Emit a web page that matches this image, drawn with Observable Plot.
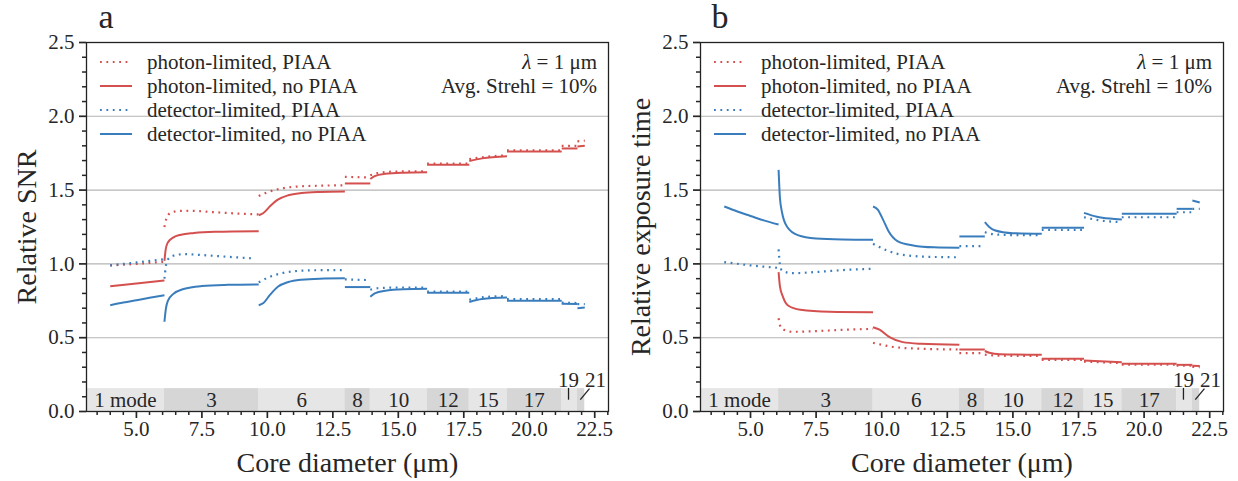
<!DOCTYPE html>
<html>
<head>
<meta charset="utf-8">
<script src="https://cdn.jsdelivr.net/npm/d3@7"></script>
<script src="https://cdn.jsdelivr.net/npm/@observablehq/plot@0.6"></script>
<style>
  html, body { margin: 0; padding: 0; background: #fff; }
  #wrap { display: flex; width: 1238px; height: 481px; }
</style>
</head>
<body>
<div id="wrap"></div>
<script>
// ---------- data ----------
const modeBounds = [6.07, 9.67, 12.96, 13.93, 16.10, 17.71, 19.15, 21.24, 21.84, 22.12];
const modeLabels = ["1 mode", "3", "6", "8", "10", "12", "15", "17", "19", "21"];
const xMajorTicks = [5, 7.5, 10, 12.5, 15, 17.5, 20, 22.5];
const yMajorTicks = [0, 0.5, 1, 1.5, 2, 2.5];
const gridY = [0.5, 1, 1.5, 2];
const legendLabels = ["photon-limited, PIAA", "photon-limited, no PIAA", "detector-limited, PIAA", "detector-limited, no PIAA"];

// Panel a: relative SNR (segments per mode band, [core diameter, value])
const snrPhotonPIAA = [
  [[4.0,0.99],[5.0,1.0],[6.07,1.015]],
  [[6.07,1.25],[6.15,1.31],[6.3,1.345],[6.6,1.358],[7.0,1.36],[8.0,1.35],[9.0,1.34],[9.67,1.335]],
  [[9.67,1.46],[10.0,1.485],[10.5,1.51],[11.0,1.522],[12.0,1.53],[12.96,1.532]],
  [[12.96,1.59],[13.93,1.585]],
  [[13.93,1.60],[14.2,1.615],[14.8,1.625],[16.1,1.628]],
  [[16.1,1.68],[17.71,1.68]],
  [[17.71,1.71],[18.3,1.725],[19.15,1.735]],
  [[19.15,1.77],[21.24,1.77]],
  [[21.24,1.80],[21.84,1.80]],
  [[21.84,1.83],[22.12,1.835]]
];
const snrPhotonNoPIAA = [
  [[4.0,0.848],[5.0,0.867],[6.07,0.888]],
  [[6.07,1.02],[6.12,1.10],[6.2,1.145],[6.4,1.178],[6.7,1.198],[7.2,1.21],[8.0,1.218],[9.67,1.222]],
  [[9.67,1.33],[9.85,1.345],[10.1,1.39],[10.4,1.435],[10.8,1.465],[11.3,1.48],[12.0,1.487],[12.96,1.49]],
  [[12.96,1.545],[13.93,1.545]],
  [[13.93,1.575],[14.1,1.595],[14.5,1.61],[15.2,1.618],[16.1,1.621]],
  [[16.1,1.672],[17.71,1.672]],
  [[17.71,1.697],[18.2,1.715],[19.15,1.73]],
  [[19.15,1.762],[21.24,1.762]],
  [[21.24,1.782],[21.84,1.782]],
  [[21.84,1.795],[22.12,1.80]]
];
const snrDetectorPIAA = [
  [[4.0,0.99],[5.0,1.01],[6.07,1.032]],
  [[6.07,0.90],[6.12,0.98],[6.2,1.03],[6.4,1.055],[6.8,1.066],[7.5,1.06],[8.5,1.048],[9.5,1.037]],
  [[9.67,0.875],[10.0,0.905],[10.5,0.935],[11.0,0.95],[11.8,0.957],[12.96,0.958]],
  [[12.96,0.895],[13.93,0.89]],
  [[13.93,0.825],[14.2,0.835],[15.0,0.84],[16.1,0.84]],
  [[16.1,0.812],[17.71,0.812]],
  [[17.71,0.757],[18.3,0.775],[19.15,0.782]],
  [[19.15,0.762],[21.24,0.762]],
  [[21.24,0.738],[21.84,0.735]],
  [[21.84,0.728],[22.12,0.728]]
];
const snrDetectorNoPIAA = [
  [[4.0,0.72],[4.5,0.738],[5.0,0.754],[5.5,0.77],[6.07,0.787]],
  [[6.07,0.608],[6.12,0.69],[6.2,0.75],[6.4,0.795],[6.8,0.83],[7.5,0.85],[8.5,0.858],[9.67,0.861]],
  [[9.67,0.72],[9.85,0.735],[10.1,0.79],[10.4,0.845],[10.8,0.877],[11.3,0.893],[12.0,0.9],[12.96,0.902]],
  [[12.96,0.843],[13.93,0.843]],
  [[13.93,0.778],[14.1,0.8],[14.5,0.818],[15.2,0.828],[16.1,0.831]],
  [[16.1,0.804],[17.71,0.804]],
  [[17.71,0.742],[18.2,0.762],[19.15,0.772]],
  [[19.15,0.75],[21.24,0.75]],
  [[21.24,0.73],[21.84,0.728]],
  [[21.84,0.70],[22.12,0.705]]
];

// Panel b: relative exposure time
const expPhotonPIAA = [
  [[6.07,0.632],[6.12,0.585],[6.25,0.556],[6.6,0.54],[7.5,0.545],[8.5,0.553],[9.67,0.56]],
  [[9.67,0.465],[10.0,0.452],[10.5,0.436],[11.5,0.425],[12.96,0.42]],
  [[12.96,0.395],[13.93,0.395]],
  [[13.93,0.385],[14.5,0.378],[16.1,0.376]],
  [[16.1,0.35],[17.71,0.35]],
  [[17.71,0.338],[19.15,0.328]],
  [[19.15,0.318],[21.24,0.318]],
  [[21.24,0.31],[21.84,0.31]],
  [[21.84,0.302],[22.12,0.30]]
];
const expPhotonNoPIAA = [
  [[6.07,0.944],[6.12,0.85],[6.24,0.775],[6.43,0.718],[6.9,0.689],[8.0,0.676],[9.67,0.673]],
  [[9.67,0.571],[9.9,0.556],[10.3,0.504],[10.8,0.47],[11.5,0.459],[12.96,0.452]],
  [[12.96,0.42],[13.93,0.42]],
  [[13.93,0.41],[14.1,0.398],[14.5,0.388],[16.1,0.384]],
  [[16.1,0.357],[17.71,0.357]],
  [[17.71,0.346],[19.15,0.334]],
  [[19.15,0.323],[21.24,0.323]],
  [[21.24,0.316],[21.84,0.316]],
  [[21.84,0.31],[22.12,0.308]]
];
const expDetectorPIAA = [
  [[4.0,1.012],[5.0,0.99],[6.07,0.973]],
  [[6.07,1.098],[6.12,1.0],[6.2,0.955],[6.6,0.937],[7.5,0.945],[8.5,0.958],[9.67,0.967]],
  [[9.67,1.136],[10.2,1.091],[10.6,1.068],[11.0,1.057],[12.0,1.047],[12.96,1.045]],
  [[12.96,1.12],[13.93,1.12]],
  [[13.93,1.215],[14.3,1.2],[15.0,1.195],[16.1,1.195]],
  [[16.1,1.231],[17.71,1.231]],
  [[17.71,1.316],[18.3,1.295],[19.15,1.283]],
  [[19.15,1.316],[21.24,1.316]],
  [[21.24,1.35],[21.84,1.35]],
  [[21.84,1.373],[22.12,1.373]]
];
const expDetectorNoPIAA = [
  [[4.0,1.389],[4.5,1.355],[5.0,1.325],[5.5,1.295],[6.07,1.267]],
  [[6.07,1.637],[6.12,1.45],[6.2,1.35],[6.4,1.25],[6.8,1.195],[7.5,1.172],[8.5,1.165],[9.67,1.163]],
  [[9.67,1.389],[9.85,1.368],[10.05,1.30],[10.25,1.225],[10.6,1.155],[11.2,1.125],[12.0,1.112],[12.96,1.109]],
  [[12.96,1.186],[13.93,1.186]],
  [[13.93,1.283],[14.1,1.25],[14.3,1.228],[15.0,1.208],[16.1,1.204]],
  [[16.1,1.245],[17.71,1.245]],
  [[17.71,1.346],[18.2,1.32],[18.7,1.307],[19.15,1.301]],
  [[19.15,1.339],[21.24,1.339]],
  [[21.24,1.373],[21.84,1.373]],
  [[21.84,1.43],[22.12,1.416]]
];

// ---------- style ----------
const RED = "#d4504f", BLUE = "#3a7dbd";
const FONT = "'Liberation Serif', 'DejaVu Serif', serif";
const TXT = "#262626";
const DOTS = "1.8,4.6";
const xDomain = [3.094, 23.026];
const bandTop = 0.155, bandMid = 0.075;

function panel({letter, ylabel, series, width, mL, mR}) {
  const rows = [];
  series.forEach((s, si) => s.segs.forEach((seg, gi) =>
    seg.forEach(([x, y]) => rows.push({x, y, z: si + "-" + gi, si}))));
  const bands = modeLabels.map((label, i) => ({
    x1: i === 0 ? xDomain[0] : modeBounds[i - 1], x2: modeBounds[i], label, i
  }));
  const small = bands.slice(8).map((b, k) => {
    const mid = (b.x1 + b.x2) / 2;
    return k === 0
      ? {label: b.label, tx: mid - 0.04, ty: 0.215, x1: mid - 0.04, y1: 0.08, x2: mid - 0.04, y2: 0.16}
      : {label: b.label, tx: mid + 0.55, ty: 0.215, x1: mid - 0.03, y1: 0.08, x2: mid + 0.32, y2: 0.155};
  });
  const xMinor = d3.range(3.5, 23.01, 0.5).filter(v => !xMajorTicks.includes(v));
  const yMinor = d3.range(1, 25).filter(v => v % 5 !== 0).map(v => v / 10);

  const chart = Plot.plot({
    width, height: 481,
    marginLeft: mL, marginRight: mR, marginTop: 42, marginBottom: 70,
    x: {domain: xDomain},
    y: {domain: [0, 2.5]},
    style: {fontFamily: FONT, background: "#fff", overflow: "visible", color: TXT},
    marks: [
      Plot.ruleY(gridY, {stroke: "#b5b5b5", strokeWidth: 1.1}),
      Plot.rect(bands.filter(d => d.i % 2 === 0), {x1: "x1", x2: "x2", y1: 0, y2: bandTop, fill: "#e6e6e7"}),
      Plot.rect(bands.filter(d => d.i % 2 === 1), {x1: "x1", x2: "x2", y1: 0, y2: bandTop, fill: "#d6d6d7"}),
      Plot.text(bands.slice(0, 8), {x: d => (d.x1 + d.x2) / 2, y: bandMid, text: "label", fontSize: 21, fill: TXT}),
      Plot.text(small, {x: "tx", y: "ty", text: "label", fontSize: 21, fill: TXT}),
      Plot.link(small, {x1: "x1", y1: "y1", x2: "x2", y2: "y2", stroke: "#222", strokeWidth: 1.3}),
      ...series.map((s, si) => Plot.line(rows.filter(r => r.si === si), {
        x: "x", y: "y", z: "z", stroke: s.color,
        strokeWidth: s.dotted ? 2.2 : 2,
        strokeDasharray: s.dotted ? DOTS : undefined,
        strokeLinecap: "butt",
        curve: "monotone-x"
      })),
      Plot.frame({stroke: "#222", strokeWidth: 1.3}),
      Plot.axisY(yMajorTicks, {tickSize: 7, tickPadding: 5, tickFormat: d => d.toFixed(1), fontSize: 21, label: null, strokeWidth: 1.7, color: TXT}),
      Plot.axisY(yMinor, {tickSize: 4, tickFormat: () => "", label: null, strokeWidth: 1.5, color: TXT}),
      Plot.axisX(xMajorTicks, {tickSize: 7, tickPadding: 3, tickFormat: d => d.toFixed(1), fontSize: 21, label: null, strokeWidth: 1.7, color: TXT}),
      Plot.axisX(xMinor, {tickSize: 4, tickFormat: () => "", label: null, strokeWidth: 1.5, color: TXT}),
      Plot.text([ylabel], {text: d => d, frameAnchor: "left", textAnchor: "middle", lineAnchor: "middle", dx: -59, rotate: -90, fontSize: 28, fill: TXT}),
      Plot.text(["Core diameter (μm)"], {text: d => d, frameAnchor: "bottom", textAnchor: "middle", lineAnchor: "middle", dy: 52, fontSize: 28, fill: TXT})
    ]
  });

  const svg = d3.select(chart);
  const g = svg.append("g").attr("font-family", FONT).attr("fill", TXT).attr("text-anchor", "start");
  g.append("text").attr("x", mL + 20).attr("y", 28).attr("text-anchor", "middle")
    .attr("font-size", 34).text(letter);
  series.forEach((s, i) => {
    const y = 62 + 24 * i;
    g.append("line").attr("x1", mL + 14).attr("x2", mL + 46).attr("y1", y).attr("y2", y)
      .attr("stroke", s.color).attr("stroke-width", s.dotted ? 2.2 : 2)
      .attr("stroke-dasharray", s.dotted ? DOTS : null);
    g.append("text").attr("x", mL + 61).attr("y", y).attr("dy", "0.32em")
      .attr("text-anchor", "start").attr("font-size", 21).text(s.label);
  });
  const rx = width - mR - 11;
  const t1 = g.append("text").attr("x", rx).attr("y", 62).attr("dy", "0.32em")
    .attr("text-anchor", "end").attr("font-size", 21);
  t1.append("tspan").attr("font-style", "italic").text("λ");
  t1.append("tspan").text(" = 1 μm");
  g.append("text").attr("x", rx).attr("y", 86).attr("dy", "0.32em")
    .attr("text-anchor", "end").attr("font-size", 21).text("Avg. Strehl = 10%");
  return chart;
}

const colors = [RED, RED, BLUE, BLUE];
const dotted = [true, false, true, false];
const mk = (arrs) => arrs.map((segs, i) => ({segs, color: colors[i], dotted: dotted[i], label: legendLabels[i]}));

const wrap = document.getElementById("wrap");
wrap.appendChild(panel({
  letter: "a", ylabel: "Relative SNR", width: 619, mL: 86, mR: 11,
  series: mk([snrPhotonPIAA, snrPhotonNoPIAA, snrDetectorPIAA, snrDetectorNoPIAA])
}));
wrap.appendChild(panel({
  letter: "b", ylabel: "Relative exposure time", width: 619, mL: 81, mR: 15,
  series: mk([expPhotonPIAA, expPhotonNoPIAA, expDetectorPIAA, expDetectorNoPIAA])
}));
</script>
</body>
</html>
